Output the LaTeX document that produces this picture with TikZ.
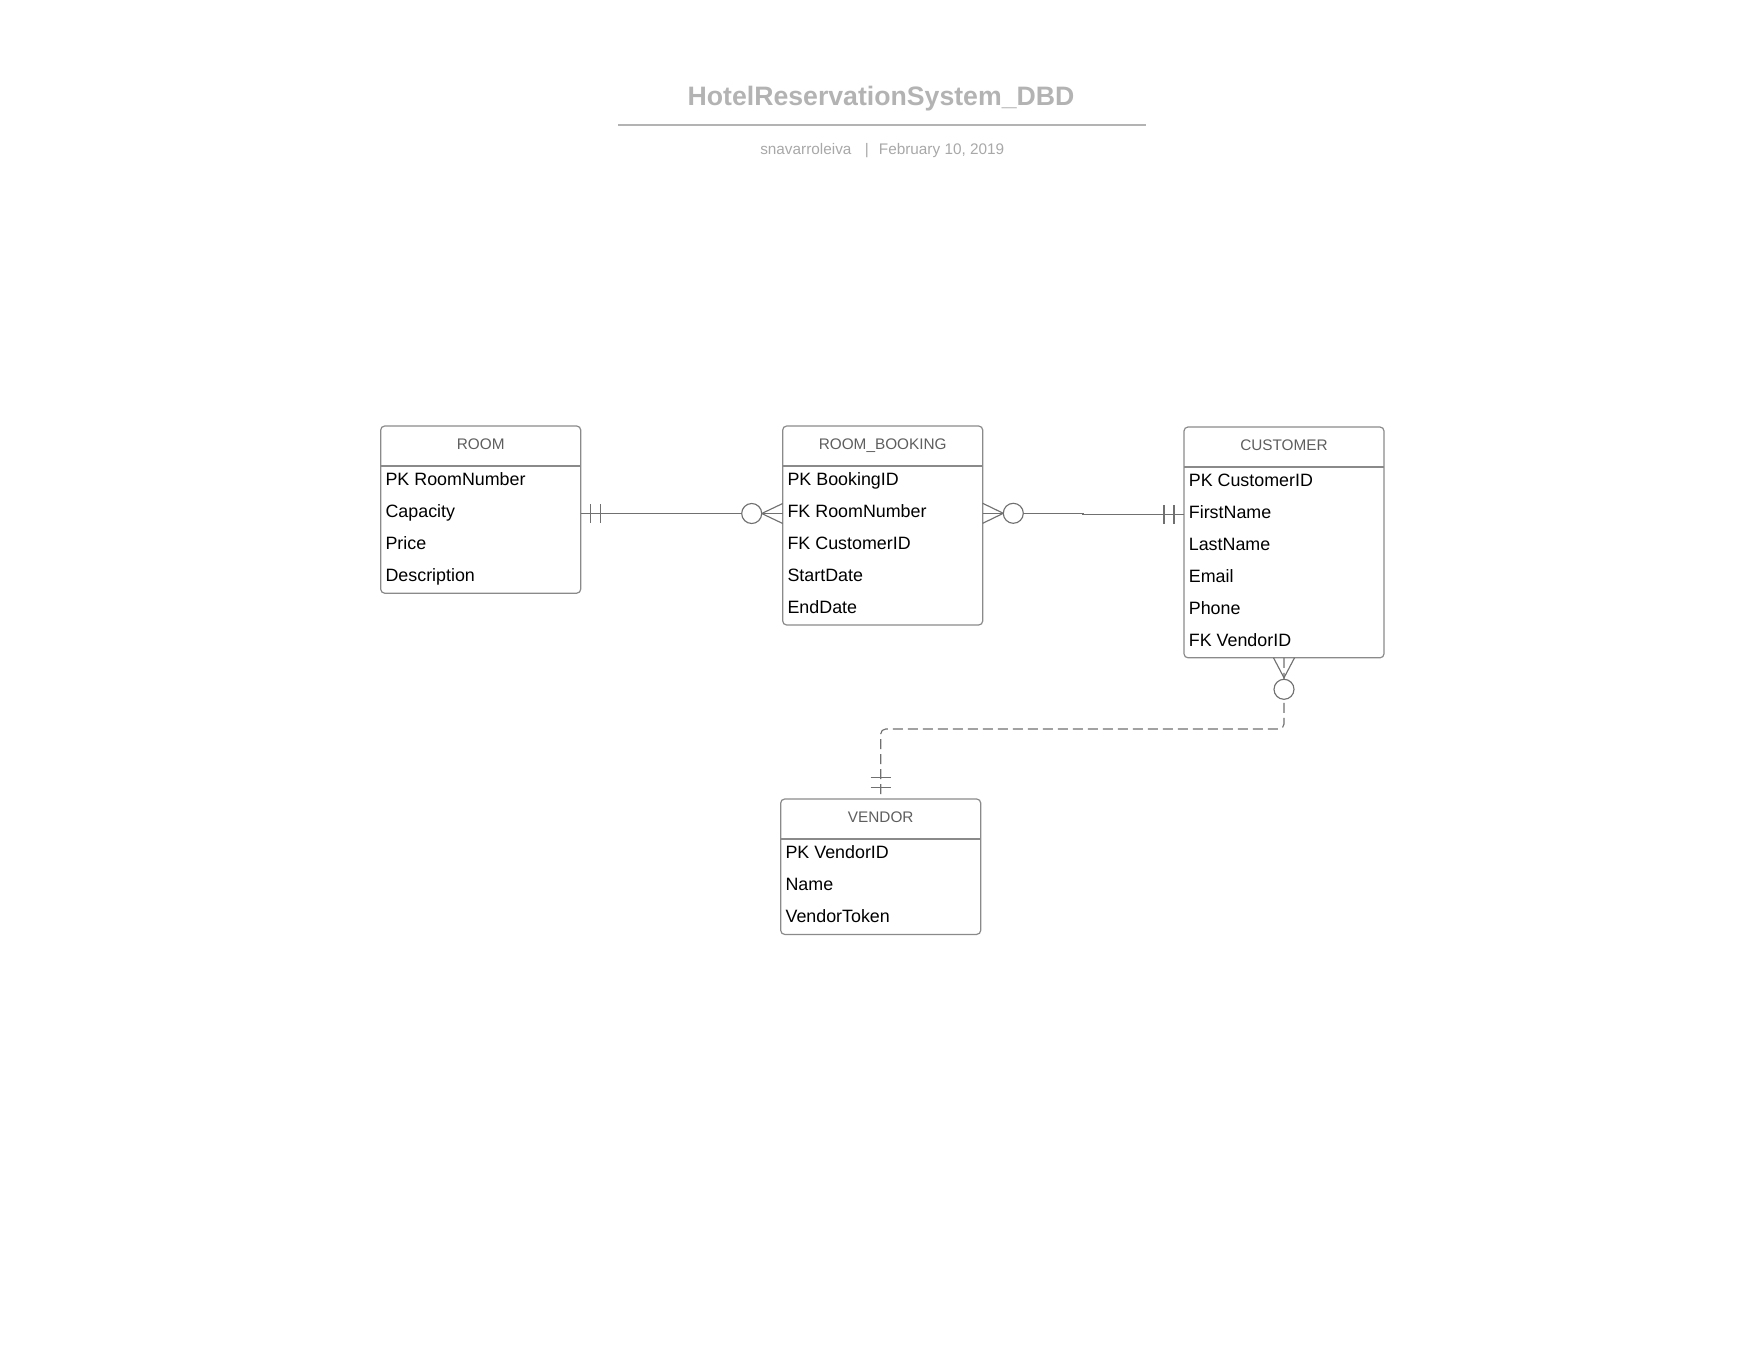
\documentclass[tikz,border=0pt]{standalone}
\usepackage{fontspec}
\setmainfont{Liberation Sans}
\usetikzlibrary{calc}

\definecolor{titlegray}{HTML}{B3B3B3}
\definecolor{subgray}{HTML}{A8A8A8}
\definecolor{boxgray}{HTML}{8A8A8A}
\definecolor{headgray}{HTML}{5E5E5E}
\definecolor{linkgray}{HTML}{707070}

\begin{document}
\begin{tikzpicture}[x=0.75pt,y=-0.75pt,
  entity/.style={draw=boxgray, line width=0.9pt, rounded corners=3pt,
    minimum width=150pt, inner sep=0pt, outer sep=0pt, anchor=north west},
  divider/.style={draw=boxgray, line width=0.9pt},
  headtext/.style={font=\fontsize{11.5pt}{13pt}\selectfont, text=headgray,
    inner sep=0pt, anchor=base},
  rowtext/.style={font=\fontsize{13.4pt}{15pt}\selectfont, text=black,
    inner sep=0pt, anchor=base west},
  link/.style={draw=linkgray, line width=0.85pt},
  optlink/.style={link, dash pattern=on 7.5pt off 3.75pt},
  ringmark/.style={link, fill=white},
]
\useasboundingbox (0,0) rectangle (1760,1360);

% ---------- title block ----------
\node[font=\fontsize{20pt}{23pt}\selectfont\bfseries, text=titlegray,
      anchor=base, inner sep=0pt] (title) at (881,105) {HotelReservationSystem\_DBD};
\draw[titlegray, line width=1.5pt] (618,124.5) -- (1146,124.5);
\node[font=\fontsize{11.5pt}{13pt}\selectfont, text=subgray, anchor=base west,
      inner sep=0pt] (byline) at (760,154)
      {snavarroleiva\hspace{10pt}|\hspace{7.6pt}February 10, 2019};

% ---------- entities ----------
% ROOM
\node[entity, minimum height=125.4pt] (room) at (380.7,426) {};
\draw[divider] ([shift={(0,40)}]room.north west) -- ([shift={(0,40)}]room.north east);
\node[headtext] (room-h) at ([shift={(0,23.5)}]room.north) {ROOM};
\foreach \t [count=\i from 0] in {PK RoomNumber,Capacity,Price,Description}
  \node[rowtext] (room-\i) at ([shift={(4.6,{59.8+32*\i})}]room.north west) {\t};

% ROOM_BOOKING
\node[entity, minimum height=149.25pt] (booking) at (782.7,426) {};
\draw[divider] ([shift={(0,40)}]booking.north west) -- ([shift={(0,40)}]booking.north east);
\node[headtext] (booking-h) at ([shift={(0,23.5)}]booking.north) {ROOM\_BOOKING};
\foreach \t [count=\i from 0] in {PK BookingID,FK RoomNumber,FK CustomerID,StartDate,EndDate}
  \node[rowtext] (booking-\i) at ([shift={(4.6,{59.8+32*\i})}]booking.north west) {\t};

% CUSTOMER
\node[entity, minimum height=173.1pt] (customer) at (1184,427) {};
\draw[divider] ([shift={(0,40)}]customer.north west) -- ([shift={(0,40)}]customer.north east);
\node[headtext] (customer-h) at ([shift={(0,23.5)}]customer.north) {CUSTOMER};
\foreach \t [count=\i from 0] in {PK CustomerID,FirstName,LastName,Email,Phone,FK VendorID}
  \node[rowtext] (customer-\i) at ([shift={(4.6,{59.8+32*\i})}]customer.north west) {\t};

% VENDOR
\node[entity, minimum height=101.55pt] (vendor) at (780.7,799) {};
\draw[divider] ([shift={(0,40)}]vendor.north west) -- ([shift={(0,40)}]vendor.north east);
\node[headtext] (vendor-h) at ([shift={(0,23.5)}]vendor.north) {VENDOR};
\foreach \t [count=\i from 0] in {PK VendorID,Name,VendorToken}
  \node[rowtext] (vendor-\i) at ([shift={(4.6,{59.8+32*\i})}]vendor.north west) {\t};

% ---------- relationships ----------
% ROOM (exactly one) -- ROOM_BOOKING (zero or many)
\coordinate (rb-a) at ([shift={(0,87.5)}]room.north east);
\coordinate (rb-b) at ([shift={(0,87.5)}]booking.north west);
\draw[link] (rb-a) -- (rb-b);
\draw[link] ($(rb-a)+(10,-9.5)$) -- ($(rb-a)+(10,9.5)$);
\draw[link] ($(rb-a)+(19.5,-9.5)$) -- ($(rb-a)+(19.5,9.5)$);
\draw[link] ($(rb-b)+(0,-10)$) -- ($(rb-b)+(-21,0)$) -- ($(rb-b)+(0,10)$);
\draw[ringmark] ($(rb-b)+(-31,0)$) circle[radius=7.5pt];

% ROOM_BOOKING (zero or many) -- CUSTOMER (exactly one)
\coordinate (bc-a) at ([shift={(0,87.3)}]booking.north east);
\coordinate (bc-b) at ([shift={(0,87.3)}]customer.north west);
\draw[link] (bc-a) -- ($(bc-a)+(100.3,0)$) |- (bc-b);
\draw[link] ($(bc-a)+(0,-10)$) -- ($(bc-a)+(20.6,0)$) -- ($(bc-a)+(0,10)$);
\draw[ringmark] ($(bc-a)+(30.6,0)$) circle[radius=7.5pt];
\draw[link] ($(bc-b)+(-20,-9.5)$) -- ($(bc-b)+(-20,9.5)$);
\draw[link] ($(bc-b)+(-10,-9.5)$) -- ($(bc-b)+(-10,9.5)$);

% CUSTOMER (zero or many, non-identifying) -- VENDOR (exactly one)
\coordinate (cv-bend) at ([shift={(0,71.2)}]customer.south);
\draw[optlink, rounded corners=3.75pt] (customer.south) -- (cv-bend)
  -- (cv-bend -| vendor.north) -- (vendor.north);
\draw[link] ($(customer.south)+(-10.5,0)$) -- ($(customer.south)+(0,20)$)
  -- ($(customer.south)+(10.5,0)$);
\draw[ringmark] ($(customer.south)+(0,31.5)$) circle[radius=7.5pt];
\draw[link] ($(vendor.north)+(-10,-21.7)$) -- ($(vendor.north)+(10,-21.7)$);
\draw[link] ($(vendor.north)+(-10,-11.7)$) -- ($(vendor.north)+(10,-11.7)$);

\end{tikzpicture}
\end{document}
